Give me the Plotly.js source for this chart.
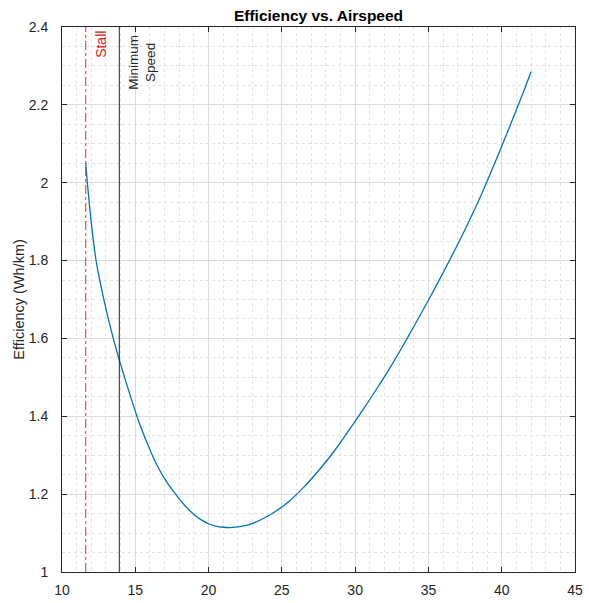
<!DOCTYPE html>
<html>
<head>
<meta charset="utf-8">
<script src="https://cdn.plot.ly/plotly-3.0.1.min.js"></script>
<style>html,body{margin:0;padding:0;background:#fff;}#chart{width:589px;height:603px;}</style>
</head>
<body>
<div id="chart"></div>
<script>
// Airspeed (x) and efficiency (y)
const airspeed = [11.62, 11.73, 11.98, 12.32, 12.86, 13.43, 13.91, 14.64, 15.3, 16.1, 16.5, 17.0, 17.5, 18.0, 18.5, 19.0, 19.5, 20.0, 20.5, 21.0, 21.46, 22.5, 23.5, 24.5, 25.5, 26.5, 27.5, 28.5, 29.5, 30.5, 31.5, 32.5, 33.5, 34.5, 35.5, 36.5, 37.5, 38.5, 39.5, 40.5, 41.5, 42.0];
const efficiency = [2.05, 2.0, 1.904, 1.801, 1.699, 1.61, 1.545, 1.455, 1.38, 1.305, 1.273, 1.24, 1.212, 1.188, 1.166, 1.148, 1.134, 1.124, 1.118, 1.115, 1.114, 1.119, 1.133, 1.154, 1.182, 1.218, 1.26, 1.307, 1.36, 1.415, 1.472, 1.532, 1.597, 1.664, 1.733, 1.805, 1.88, 1.96, 2.048, 2.14, 2.235, 2.285];
const stallSpeed = 11.62;
const minSpeed = 13.91;
const xTicks = [10, 15, 20, 25, 30, 35, 40, 45];
const yTicks = [1, 1.2, 1.4, 1.6, 1.8, 2, 2.2, 2.4];
const yTickText = ['1', '1.2', '1.4', '1.6', '1.8', '2', '2.2', '2.4'];

const axisColor = '#262626';
const font = 'Liberation Sans, Arial, sans-serif';

const traces = [{
  x: airspeed, y: efficiency, type: 'scatter', mode: 'lines',
  line: {color: '#0072BD', width: 1.3, shape: 'spline', smoothing: 0.8}, hoverinfo: 'x+y', showlegend: false
}];

const layout = {
  width: 589, height: 603,
  margin: {l: 62, r: 14, t: 27, b: 31},
  paper_bgcolor: '#fff', plot_bgcolor: '#fff',
  font: {family: font, color: axisColor, size: 13},
  title: {text: '<b>Efficiency vs. Airspeed</b>', x: 0.5, xanchor: 'center', xref: 'paper', y: 1, yref: 'paper', yanchor: 'bottom', pad: {b: 6}, font: {family: font, size: 15.5, color: '#000'}},
  xaxis: {
    range: [10, 45], tickvals: xTicks, ticktext: xTicks.map(String),
    ticks: 'inside', ticklen: 5, tickcolor: axisColor, tickwidth: 1,
    showline: true, linecolor: axisColor, linewidth: 1, mirror: 'ticks',
    showgrid: true, gridcolor: '#dcdcdc', gridwidth: 1, zeroline: false,
    minor: {dtick: 1, showgrid: true, gridcolor: '#e2e2e2', griddash: 'dot', gridwidth: 1},
    tickfont: {size: 14, color: axisColor}, ticklabelstandoff: 5
  },
  yaxis: {
    range: [1, 2.4], tickvals: yTicks, ticktext: yTickText,
    ticks: 'inside', ticklen: 5, tickcolor: axisColor, tickwidth: 1,
    showline: true, linecolor: axisColor, linewidth: 1, mirror: 'ticks',
    showgrid: true, gridcolor: '#dcdcdc', gridwidth: 1, zeroline: false,
    minor: {dtick: 0.05, showgrid: true, gridcolor: '#e2e2e2', griddash: 'dot', gridwidth: 1},
    tickfont: {size: 14, color: axisColor}, ticklabelstandoff: 10,
    title: {text: 'Efficiency (Wh/km)', font: {size: 14.5, color: axisColor}, standoff: 0}
  },
  shapes: [
    {type: 'line', xref: 'x', yref: 'paper', x0: stallSpeed, x1: stallSpeed, y0: 0, y1: 1,
     line: {color: '#e03030', width: 1, dash: 'dashdot'}},
    {type: 'line', xref: 'x', yref: 'paper', x0: minSpeed, x1: minSpeed, y0: 0, y1: 1,
     line: {color: '#262626', width: 1}}
  ],
  annotations: [
    {text: 'Stall', xref: 'x', yref: 'paper', x: stallSpeed, y: 0.997, xanchor: 'left', yanchor: 'top',
     xshift: 5, textangle: -90, showarrow: false, font: {size: 14, color: '#d62020'}},
    {text: 'Minimum<br>Speed', xref: 'x', yref: 'paper', x: minSpeed, y: 0.99, xanchor: 'left', yanchor: 'top',
     xshift: 5, textangle: -90, showarrow: false, align: 'center', font: {size: 13.5, color: '#262626'}}
  ]
};

Plotly.newPlot('chart', traces, layout, {displayModeBar: false, staticPlot: true});
</script>
</body>
</html>
